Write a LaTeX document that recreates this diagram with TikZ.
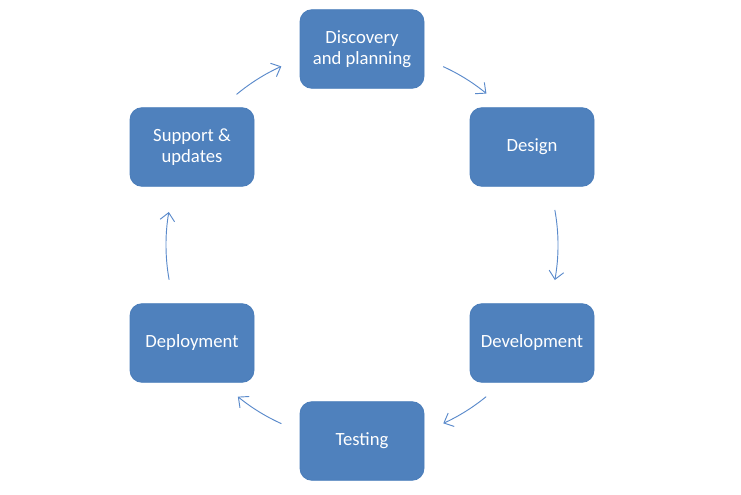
\documentclass[tikz,border=0pt]{standalone}
\usepackage{fontspec}
\setmainfont{Carlito}
\usetikzlibrary{arrows.meta,calc}
\definecolor{boxblue}{HTML}{4F81BD}
\definecolor{boxedge}{HTML}{4A7DBA}
\definecolor{arrblue}{HTML}{5A8ACB}
\tikzset{
  stagebox/.style={draw=boxedge,line width=0.6pt,fill=boxblue,rounded corners=9pt,
    minimum width=93pt,minimum height=59pt,text=white,align=center,
    font=\fontsize{14pt}{16pt}\selectfont,inner sep=2pt},
  cyclearr/.style={draw=arrblue,line width=0.7pt,-{Straight Barb[length=6pt,width=11pt]}}
}
\begin{document}
\begin{tikzpicture}[x=0.75pt,y=0.75pt]
\useasboundingbox (0,0) rectangle (741,494);
\coordinate (c) at (362,249);
\node[stagebox] (disc) at (362,445) {Discovery\\and planning};
\node[stagebox] (design) at (532,347) {Design};
\node[stagebox] (dev) at (532,151) {Development};
\node[stagebox] (test) at (362,53) {Testing};
\node[stagebox] (deploy) at (192,151) {Deployment};
\node[stagebox] (support) at (192,347) {Support \&\\updates};
\coordinate (a1) at ($(c)+(65.5:196)$);
\coordinate (a2) at ($(c)+(10.3:196)$);
\coordinate (a3) at ($(c)+(-50.7:196)$);
\coordinate (a4) at ($(c)+(-114.3:196)$);
\coordinate (a5) at ($(c)+(-169.8:196)$);
\coordinate (a6) at ($(c)+(129.8:196)$);
\draw[cyclearr] (a1) arc[start angle=65.5,end angle=50.6,radius=196];
\draw[cyclearr] (a2) arc[start angle=10.3,end angle=-10.3,radius=196];
\draw[cyclearr] (a3) arc[start angle=-50.7,end angle=-65.5,radius=196];
\draw[cyclearr] (a4) arc[start angle=-114.3,end angle=-129.3,radius=196];
\draw[cyclearr] (a5) arc[start angle=-169.8,end angle=-189.7,radius=196];
\draw[cyclearr] (a6) arc[start angle=129.8,end angle=114.3,radius=196];
\end{tikzpicture}
\end{document}
